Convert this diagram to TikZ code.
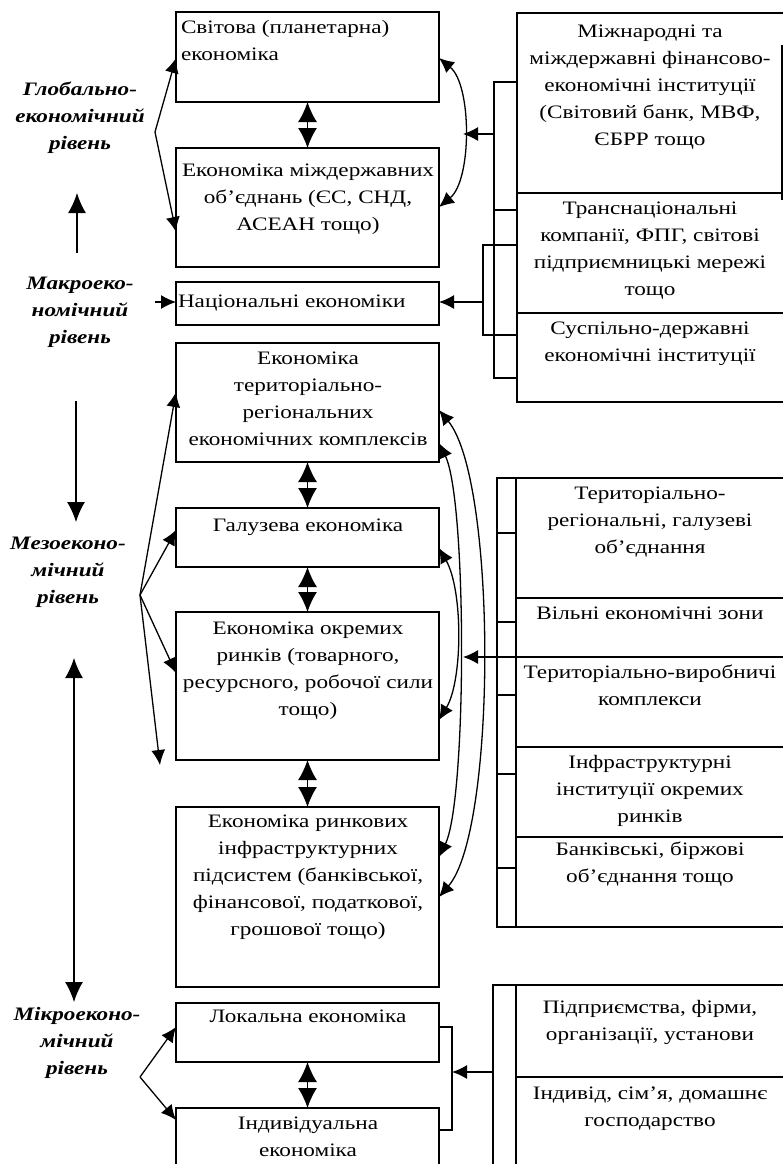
\documentclass[tikz,border=0pt]{standalone}
\usepackage{fontspec}
\setmainfont[FakeStretch=1.22]{Liberation Serif}
\usetikzlibrary{arrows.meta,fit,calc}
\begin{document}
\begin{tikzpicture}[x=1pt,y=-1pt,
  every node/.style={inner sep=0pt, outer sep=0pt},
  txt/.style={font=\fontsize{19}{27}\selectfont, align=center, anchor=north},
  lvl/.style={font=\fontsize{19}{27}\selectfont\bfseries\itshape, align=center, anchor=north},
  box/.style={draw, line width=1.5pt, fit={#1}},
  ln/.style={line width=1.3pt},
  arr/.style={-{Latex[length=15pt,width=14pt]}, line width=1.3pt},
  dblc/.style={{Latex[length=15pt,width=14pt]}-{Latex[length=15pt,width=14pt]}, line width=1.3pt},
  dbig/.style={{Latex[length=20pt,width=19pt]}-{Latex[length=20pt,width=19pt]}, line width=1.3pt},
  varr/.style={-{Latex[length=20pt,width=18pt]}, line width=1.3pt},
  vdbl/.style={{Latex[length=20pt,width=18pt]}-{Latex[length=20pt,width=18pt]}, line width=1.3pt}
]
\useasboundingbox (0,0) rectangle (783,1164);
\clip (0,0) rectangle (783,1164);

% left column boxes
\node[box={(176,12) (439,102)}] (b1) {};
\node[box={(176,148) (439,267)}] (b2) {};
\node[box={(176,282) (439,325)}] (b3) {};
\node[box={(176,343) (439,462)}] (b4) {};
\node[box={(176,508) (439,567)}] (b5) {};
\node[box={(176,612) (439,760)}] (b6) {};
\node[box={(176,807) (439,987)}] (b7) {};
\node[box={(176,1003) (439,1062)}] (b8) {};
\node[box={(176,1108) (439,1180)}] (b9) {};

\node[txt, anchor=north west, align=left] (t1) at (181,20) {Світова (планетарна)\\економіка};
\node[txt] (t2) at (308,164) {Економіка міждержавних\\об’єднань (ЄС, СНД,\\АСЕАН тощо)};
\node[txt, anchor=west] (t3) at (178,303) {Національні економіки};
\node[txt] (t4) at (308,352) {Економіка\\територіально-\\регіональних\\економічних комплексів};
\node[txt] (t5) at (308,519) {Галузева економіка};
\node[txt] (t6) at (308,622) {Економіка окремих\\ринків (товарного,\\ресурсного, робочої сили\\тощо)};
\node[txt] (t7) at (308,815) {Економіка ринкових\\інфраструктурних\\підсистем (банківської,\\фінансової, податкової,\\грошової тощо)};
\node[txt] (t8) at (308,1010) {Локальна економіка};
\node[txt] (t9) at (308,1117) {Індивідуальна\\економіка};

% right top group
\node[box={(517,13) (795,193)}] (c1) {};
\node[box={(517,193) (795,313)}] (c2) {};
\node[box={(517,313) (795,402)}] (c3) {};
\node[txt] (r1) at (650,25) {Міжнародні та\\міждержавні фінансово-\\економічні інституції\\(Світовий банк, МВФ,\\ЄБРР тощо};
\node[txt] (r2) at (650,202) {Транснаціональні\\компанії, ФПГ, світові\\підприємницькі мережі\\тощо};
\node[txt] (r3) at (650,322) {Суспільно-державні\\економічні інституції};
\draw[line width=2pt] (782,45) -- (782,200);

% right middle group
\node[box={(497,478) (516,927)}] (col1) {};
\node[box={(516,478) (795,598)}] (m1) {};
\node[box={(516,598) (795,657)}] (m2) {};
\node[box={(516,657) (795,747)}] (m3) {};
\node[box={(516,747) (795,837)}] (m4) {};
\node[box={(516,837) (795,927)}] (m5) {};
\foreach \yy in {533,622,695,774,868}{
  \draw[ln] (col1.west |- 0,\yy) -- (col1.east |- 0,\yy);
}
\node[txt] (m1t) at (650,487) {Територіально-\\регіональні, галузеві\\об’єднання};
\node[txt] (m2t) at (650,607) {Вільні економічні зони};
\node[txt] (m3t) at (650,665) {Територіально-виробничі\\комплекси};
\node[txt] (m4t) at (650,755) {Інфраструктурні\\інституції окремих\\ринків};
\node[txt] (m5t) at (650,842) {Банківські, біржові\\об’єднання тощо};

% right bottom group
\node[box={(493,985) (516,1180)}] (col2) {};
\node[box={(516,985) (795,1077)}] (p1) {};
\node[box={(516,1077) (795,1180)}] (p2) {};
\node[txt] (p1t) at (650,1000) {Підприємства, фірми,\\організації, установи};
\node[txt] (p2t) at (650,1087) {Індивід, сім’я, домашнє\\господарство};

% level labels
\node[lvl] (lg) at (80,82) {Глобально-\\економічний\\рівень};
\node[lvl] (lma) at (80,277) {Макроеко-\\номічний\\рівень};
\node[lvl] (lme) at (68,537) {Мезоеконо-\\мічний\\рівень};
\node[lvl] (lmi) at (77,1007) {Мікроеконо-\\мічний\\рівень};

% vertical arrows between labels
\coordinate (ua1) at (77,253); \coordinate (ua2) at (77,193);
\draw[varr] (ua1) -- (ua2);
\coordinate (da1) at (76,401); \coordinate (da2) at (76,522);
\draw[varr] (da1) -- (da2);
\coordinate (dd1) at (74,658); \coordinate (dd2) at (74,1002);
\draw[vdbl] (dd1) -- (dd2);

% branching arrows from labels
\coordinate (vG) at (155,132);
\draw[arr] (vG) -- (b1.west |- 0,58);
\draw[arr] (vG) -- (b2.west |- 0,232);
\coordinate (vMa) at (155,302);
\draw[arr] (vMa) -- (b3.west |- 0,302);
\coordinate (vMe) at (140,595);
\coordinate (eMe) at (160,765);
\draw[arr] (vMe) -- (b4.west |- 0,392);
\draw[arr] (vMe) -- (b5.west |- 0,530);
\draw[arr] (vMe) -- (b6.west |- 0,673);
\draw[arr] (vMe) -- (eMe);
\coordinate (vMi) at (140,1077);
\draw[arr] (vMi) -- (b8.west |- 0,1027);
\draw[arr] (vMi) -- (b9.west |- 0,1120);

% double arrows between left boxes
\draw[dbig] (b1.south) -- (b2.north);
\draw[dbig] (b4.south) -- (b5.north);
\draw[dbig] (b5.south) -- (b6.north);
\draw[dbig] (b6.south) -- (b7.north);
\draw[dbig] (b8.south) -- (b9.north);

% top right curve and brackets
\draw[dblc] (b1.east |- 0,58) .. controls (472,85) and (472,180) .. (b2.east |- 0,207);
\coordinate (k1) at (494,82); \coordinate (k2) at (494,378);
\coordinate (k3) at (494,210); \coordinate (k4) at (494,134);
\coordinate (k5) at (483,245); \coordinate (k6) at (483,335);
\coordinate (k7) at (483,302); \coordinate (k8) at (463,134);
\draw[ln] (c1.west |- k1) -- (k1) -- (k2) -- (c3.west |- k2);
\draw[ln] (k3) -- (c2.west |- k3);
\draw[ln] (c2.west |- k5) -- (k5) -- (k6) -- (c3.west |- k6);
\draw[arr] (k4) -- (k8);
\draw[arr] (k7) -- (b3.east |- k7);

% middle curves
\draw[dblc] (b4.east |- 0,410) .. controls (497,480) and (497,830) .. (b7.east |- 0,897);
\draw[dblc] (b4.east |- 0,443) .. controls (467,500) and (467,800) .. (b7.east |- 0,857);
\draw[dblc] (b5.east |- 0,548) .. controls (463,590) and (463,680) .. (b6.east |- 0,720);
\coordinate (mt) at (463,657);
\draw[arr] (m3.north west) -- (mt);

% bottom bracket
\coordinate (q1) at (452,1027); \coordinate (q2) at (452,1130); \coordinate (q3) at (452,1072);
\draw[ln] (b8.east |- q1) -- (q1) -- (q2) -- (b9.east |- q2);
\draw[arr] (col2.west |- q3) -- (q3);
\end{tikzpicture}
\end{document}
